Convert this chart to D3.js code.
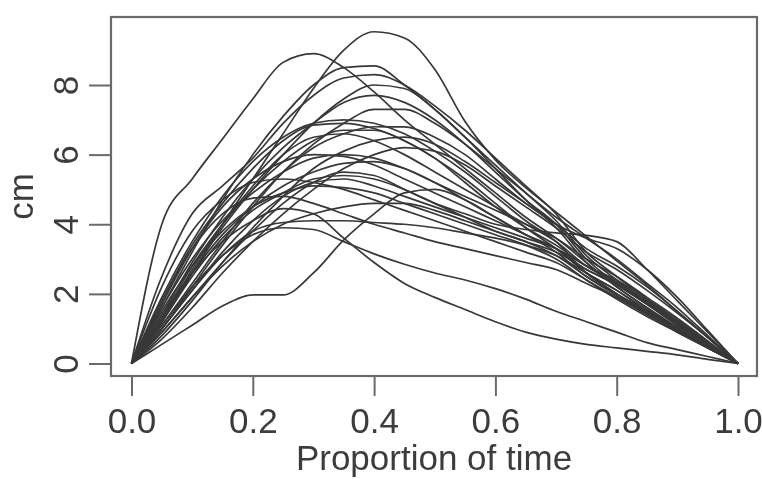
<!DOCTYPE html>
<html>
<head>
<meta charset="utf-8">
<script src="https://cdn.jsdelivr.net/npm/d3@7/dist/d3.min.js"></script>
<style>
  html, body { margin: 0; padding: 0; background: #fff; }
  svg { display: block; filter: blur(0.5px); }
  text { font-family: "Liberation Sans", Arial, sans-serif; fill: #3c3c3c; }
</style>
</head>
<body>
<svg id="chart" width="762" height="479"></svg>
<script>
// ---- data ----
const timeGrid = [0, 0.05, 0.1, 0.15, 0.2, 0.25, 0.3, 0.35, 0.4, 0.45, 0.5,
                  0.55, 0.6, 0.65, 0.7, 0.75, 0.8, 0.85, 0.9, 0.95, 1];
const xTicks = [0, 0.2, 0.4, 0.6, 0.8, 1.0];
const yTicks = [0, 2, 4, 6, 8];
const xLabel = "Proportion of time";
const yLabel = "cm";

const curveA  = [0, 4.0, 5.3, 6.45, 7.6, 8.65, 8.9, 8.5, 7.8, 7.0, 6.3, 5.6, 4.9, 4.2, 3.6, 2.9, 2.2, 1.6, 1.05, 0.5, 0];
const curveB  = [0, 1.2, 2.6, 4.0, 5.3, 6.6, 7.9, 9.0, 9.53, 9.35, 8.45, 6.95, 5.85, 5.05, 4.35, 3.65, 2.95, 2.25, 1.5, 0.75, 0];
const curveC  = [0, 1.6, 3.2, 4.7, 6.0, 7.1, 8.0, 8.5, 8.55, 8.0, 7.3, 6.5, 5.7, 4.9, 4.1, 3.1, 2.4, 1.75, 1.15, 0.55, 0];
const curveD  = [0, 2.5, 4.3, 5.1, 5.9, 6.9, 7.7, 8.2, 8.3, 8.0, 7.4, 6.7, 5.9, 5.1, 4.3, 3.2, 2.5, 1.85, 1.2, 0.6, 0];
const curveE  = [0, 1.2, 2.6, 3.9, 5.0, 6.0, 6.9, 7.6, 8.0, 7.9, 7.3, 6.5, 5.6, 4.7, 3.9, 2.9, 2.2, 1.6, 1.0, 0.5, 0];
const curveF  = [0, 1.4, 2.9, 4.2, 5.3, 6.2, 6.9, 7.5, 7.7, 7.5, 7.0, 6.3, 5.5, 4.7, 4.0, 3.0, 2.3, 1.7, 1.1, 0.55, 0];
const curveG  = [0, 1.0, 2.2, 3.4, 4.5, 5.5, 6.3, 6.9, 7.3, 7.3, 6.9, 6.3, 5.6, 4.9, 4.2, 3.6, 3.0, 2.3, 1.6, 0.8, 0];
const curveH  = [0, 1.8, 3.4, 4.6, 5.6, 6.4, 6.85, 6.9, 6.75, 6.4, 5.9, 5.3, 4.6, 3.9, 3.3, 2.6, 2.0, 1.45, 0.95, 0.45, 0];
const curveI  = [0, 1.1, 2.3, 3.5, 4.6, 5.5, 6.2, 6.6, 6.8, 6.8, 6.5, 6.0, 5.3, 4.6, 4.0, 3.3, 2.8, 2.2, 1.5, 0.75, 0];
const curveJ  = [0, 0.8, 1.8, 2.9, 3.9, 4.8, 5.6, 6.1, 6.4, 6.5, 6.3, 5.8, 5.2, 4.6, 4.0, 3.6, 3.3, 2.7, 1.9, 0.95, 0];
const curveK  = [0, 1.7, 3.3, 4.5, 5.3, 5.8, 6.0, 5.95, 5.7, 5.3, 4.9, 4.5, 4.1, 3.7, 3.3, 2.6, 2.1, 1.5, 1.0, 0.5, 0];
const curveL  = [0, 1.3, 2.6, 3.7, 4.5, 5.1, 5.5, 5.75, 5.8, 5.6, 5.2, 4.7, 4.2, 3.7, 3.3, 2.7, 2.3, 1.8, 1.2, 0.6, 0];
const curveM  = [0, 1.2, 2.5, 3.6, 4.4, 4.9, 5.3, 5.4, 5.3, 5.0, 4.6, 4.2, 3.8, 3.5, 3.1, 2.5, 1.95, 1.45, 0.95, 0.45, 0];
const curveN  = [0, 1.5, 2.8, 3.8, 4.5, 4.9, 5.1, 5.05, 4.9, 4.6, 4.3, 4.0, 3.7, 3.4, 3.0, 2.4, 1.85, 1.35, 0.9, 0.45, 0];
const curveO  = [0, 0.55, 1.1, 1.65, 1.97, 1.97, 2.6, 3.55, 4.3, 4.9, 5.0, 4.7, 4.2, 3.7, 3.2, 2.5, 2.0, 1.5, 1.0, 0.5, 0];
const curveP  = [0, 1.8, 3.3, 4.3, 4.75, 4.8, 4.6, 4.3, 4.0, 3.75, 3.5, 3.3, 3.1, 2.9, 2.7, 2.3, 1.9, 1.45, 0.95, 0.45, 0];
const curveQ  = [0, 1.4, 2.6, 3.5, 4.1, 4.45, 4.3, 3.6, 2.9, 2.3, 1.9, 1.55, 1.2, 0.9, 0.7, 0.55, 0.45, 0.35, 0.25, 0.12, 0];
const curveR  = [0, 1.1, 2.2, 3.1, 3.7, 3.9, 3.85, 3.5, 3.15, 2.85, 2.6, 2.4, 2.15, 1.85, 1.5, 1.2, 0.9, 0.6, 0.4, 0.2, 0];
const curveS  = [0, 1.0, 2.1, 3.1, 3.8, 4.05, 4.1, 4.1, 4.05, 4.0, 3.9, 3.75, 3.6, 3.4, 3.1, 2.6, 2.1, 1.55, 1.0, 0.5, 0];
const curveU  = [0, 0.9, 1.9, 2.9, 3.8, 4.6, 5.2, 5.5, 5.4, 5.0, 4.6, 4.3, 4.0, 3.85, 3.75, 3.68, 3.5, 2.7, 1.8, 0.9, 0];
const curveX  = [0, 1.2, 2.7, 4.0, 5.1, 6.0, 6.5, 6.6, 6.4, 6.0, 5.5, 5.0, 4.5, 4.0, 3.5, 2.8, 2.3, 1.75, 1.15, 0.55, 0];
const curveY  = [0, 1.9, 3.5, 4.8, 5.8, 6.5, 6.9, 7.0, 6.9, 6.6, 6.1, 5.5, 4.8, 4.1, 3.5, 2.6, 2.0, 1.45, 0.95, 0.45, 0];
const curveZ  = [0, 0.9, 1.9, 2.8, 3.5, 4.0, 4.3, 4.5, 4.6, 4.6, 4.4, 4.1, 3.8, 3.5, 3.2, 2.7, 2.25, 1.7, 1.1, 0.55, 0];
const curveAA = [0, 2.2, 3.8, 4.7, 5.2, 5.3, 5.2, 5.0, 4.7, 4.4, 4.1, 3.8, 3.5, 3.2, 2.9, 2.4, 1.9, 1.4, 0.9, 0.45, 0];
const curveCC = [0, 1.3, 2.8, 4.0, 5.0, 5.8, 6.4, 6.7, 6.7, 6.4, 5.9, 5.2, 4.5, 3.9, 3.4, 2.8, 2.4, 1.85, 1.25, 0.6, 0];
const curveDD = [0, 1.6, 3.0, 4.1, 4.9, 5.5, 5.9, 6.0, 5.9, 5.6, 5.2, 4.8, 4.4, 4.0, 3.6, 3.0, 2.5, 1.9, 1.3, 0.65, 0];
const curveEE = [0, 0.7, 1.6, 2.6, 3.5, 4.3, 5.0, 5.6, 6.0, 6.2, 6.1, 5.7, 5.1, 4.5, 3.9, 3.2, 2.7, 2.1, 1.45, 0.75, 0];
const curveFF = [0, 1.0, 2.1, 3.2, 4.1, 4.8, 5.2, 5.3, 5.1, 4.8, 4.5, 4.2, 3.9, 3.6, 3.3, 2.8, 2.35, 1.8, 1.2, 0.6, 0];

const allCurves = [curveA, curveB, curveC, curveD, curveE, curveF, curveG, curveH,
  curveI, curveJ, curveK, curveL, curveM, curveN, curveO, curveP, curveQ, curveR,
  curveS, curveU, curveX, curveY, curveZ, curveAA, curveCC, curveDD, curveEE, curveFF];

// ---- layout ----
const svg = d3.select("#chart");
const box = { left: 111, right: 757, top: 17, bottom: 376 };
const x = d3.scaleLinear().domain([0, 1]).range([131.5, 738]);
const y = d3.scaleLinear().domain([0, 8]).range([363.5, 85]);
const ink = "#383838";
const axisInk = "#6a6a6a";

// curves
const line = d3.line()
  .x((d, i) => x(timeGrid[i]))
  .y(d => y(d))
  .curve(d3.curveMonotoneX);

svg.append("g")
  .selectAll("path")
  .data(allCurves)
  .join("path")
  .attr("d", line)
  .attr("fill", "none")
  .attr("stroke", ink)
  .attr("stroke-width", 1.7)
  .attr("stroke-linejoin", "round");

// box
svg.append("rect")
  .attr("x", box.left).attr("y", box.top)
  .attr("width", box.right - box.left).attr("height", box.bottom - box.top)
  .attr("fill", "none").attr("stroke", axisInk).attr("stroke-width", 2.2);

// x axis
const xAxis = svg.append("g")
  .attr("transform", `translate(0,${box.bottom})`)
  .call(d3.axisBottom(x).tickValues(xTicks).tickFormat(d3.format(".1f")).tickSize(20).tickPadding(12));
xAxis.select(".domain").remove();
xAxis.selectAll(".tick line").attr("stroke", axisInk).attr("stroke-width", 2);
xAxis.selectAll(".tick text")
  .attr("font-size", 35)
  .style("font-family", '"Liberation Sans", Arial, sans-serif')
  .attr("fill", "#3c3c3c");

// y axis
const yAxis = svg.append("g")
  .attr("transform", `translate(${box.left},0)`)
  .call(d3.axisLeft(y).tickValues(yTicks).tickFormat(d3.format("d")).tickSize(22).tickPadding(0));
yAxis.select(".domain").remove();
yAxis.selectAll(".tick line").attr("stroke", axisInk).attr("stroke-width", 2);
yAxis.selectAll(".tick text")
  .attr("font-size", 35)
  .style("font-family", '"Liberation Sans", Arial, sans-serif')
  .attr("fill", "#3c3c3c")
  .attr("text-anchor", "middle")
  .attr("dy", 0)
  .attr("x", 0)
  .attr("transform", "translate(-33,0) rotate(-90)");

// axis titles
svg.append("text")
  .attr("x", (box.left + box.right) / 2)
  .attr("y", 470)
  .attr("text-anchor", "middle")
  .attr("font-size", 35)
  .text(xLabel);

svg.append("text")
  .attr("transform", `translate(33,${(box.top + box.bottom) / 2}) rotate(-90)`)
  .attr("text-anchor", "middle")
  .attr("font-size", 35)
  .text(yLabel);
</script>
</body>
</html>
